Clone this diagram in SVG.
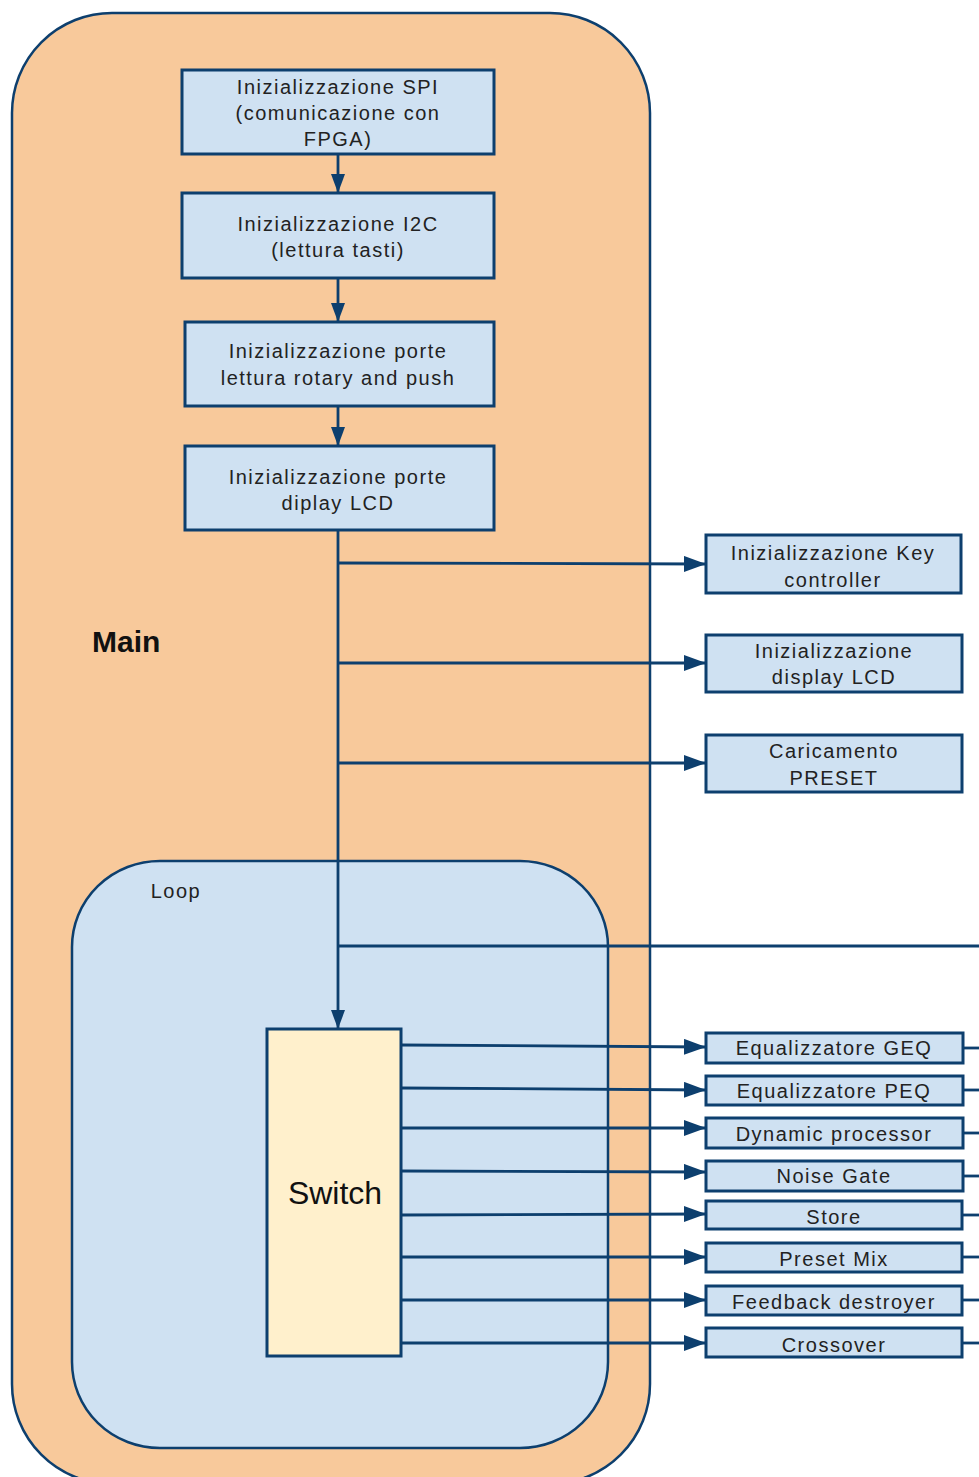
<svg xmlns="http://www.w3.org/2000/svg" width="979" height="1477" viewBox="0 0 979 1477">
  <defs>
    <marker id="arrow" markerUnits="userSpaceOnUse" markerWidth="24" markerHeight="18" refX="22" refY="8" orient="auto">
      <path d="M0,0 L22,8 L0,16 Z" fill="#0d3f6e"/>
    </marker>
    <marker id="arrowSmall" markerUnits="userSpaceOnUse" markerWidth="20" markerHeight="16" refX="19" refY="7" orient="auto">
      <path d="M0,0 L19,7 L0,14 Z" fill="#0d3f6e"/>
    </marker>
  </defs>
  <style>
    .main { fill: #f8c99b; stroke: #0d3f6e; stroke-width: 2.5; }
    .loop { fill: #cfe1f2; stroke: #0d3f6e; stroke-width: 2.5; }
    .box { fill: #cfe1f2; stroke: #0d3f6e; stroke-width: 3; }
    .switch { fill: #fff0cc; stroke: #0d3f6e; stroke-width: 3; }
    .edge { fill: none; stroke: #0d3f6e; stroke-width: 2.8; }
    .lbl { font-family: "Liberation Sans", Arial, sans-serif; font-size: 20px; letter-spacing: 1.5px; fill: #222222; text-anchor: middle; }
    .title { font-family: "Liberation Sans", Arial, sans-serif; font-size: 30px; font-weight: bold; fill: #111111; }
    .big { font-family: "Liberation Sans", Arial, sans-serif; font-size: 32px; fill: #111111; text-anchor: middle; }
  </style>

  <rect width="979" height="1477" fill="#ffffff"/>

  <!-- containers -->
  <g id="main">
    <rect class="main" x="12" y="13" width="638" height="1471" rx="100" ry="100"/>
    <text class="title" x="92" y="652">Main</text>
  </g>
  <g id="loop">
    <rect class="loop" x="72" y="861" width="536" height="587" rx="88" ry="86"/>
    <text class="lbl" x="176" y="898">Loop</text>
  </g>

  <!-- connectors -->
  <g id="connectors">
    <line class="edge" x1="338" y1="154" x2="338" y2="193" marker-end="url(#arrowSmall)"/>
    <line class="edge" x1="338" y1="278" x2="338" y2="322" marker-end="url(#arrowSmall)"/>
    <line class="edge" x1="338" y1="406" x2="338" y2="446" marker-end="url(#arrowSmall)"/>
    <line class="edge" x1="338" y1="530" x2="338" y2="1029" marker-end="url(#arrowSmall)"/>
    <line class="edge" x1="338" y1="563" x2="706" y2="564" marker-end="url(#arrow)"/>
    <line class="edge" x1="338" y1="663" x2="706" y2="663" marker-end="url(#arrow)"/>
    <line class="edge" x1="338" y1="763" x2="706" y2="763" marker-end="url(#arrow)"/>
    <line class="edge" x1="338" y1="946" x2="979" y2="946"/>

    <line class="edge" x1="401" y1="1045" x2="706" y2="1047" marker-end="url(#arrow)"/>
    <line class="edge" x1="401" y1="1088" x2="706" y2="1090" marker-end="url(#arrow)"/>
    <line class="edge" x1="401" y1="1128" x2="706" y2="1128" marker-end="url(#arrow)"/>
    <line class="edge" x1="401" y1="1171" x2="706" y2="1172" marker-end="url(#arrow)"/>
    <line class="edge" x1="401" y1="1215" x2="706" y2="1214" marker-end="url(#arrow)"/>
    <line class="edge" x1="401" y1="1257" x2="706" y2="1257" marker-end="url(#arrow)"/>
    <line class="edge" x1="401" y1="1300" x2="706" y2="1300" marker-end="url(#arrow)"/>
    <line class="edge" x1="401" y1="1343" x2="706" y2="1343" marker-end="url(#arrow)"/>

    <line class="edge" x1="963" y1="1048" x2="979" y2="1048"/>
    <line class="edge" x1="963" y1="1090" x2="979" y2="1090"/>
    <line class="edge" x1="963" y1="1133" x2="979" y2="1133"/>
    <line class="edge" x1="963" y1="1176" x2="979" y2="1176"/>
    <line class="edge" x1="962" y1="1215" x2="979" y2="1215"/>
    <line class="edge" x1="962" y1="1257" x2="979" y2="1257"/>
    <line class="edge" x1="962" y1="1300" x2="979" y2="1300"/>
    <line class="edge" x1="962" y1="1343" x2="979" y2="1343"/>
  </g>

  <!-- initialisation chain -->
  <g id="init-spi">
    <rect class="box" x="182" y="70" width="312" height="84"/>
    <text class="lbl" x="338" y="94">Inizializzazione SPI</text>
    <text class="lbl" x="338" y="120">(comunicazione con</text>
    <text class="lbl" x="338" y="146">FPGA)</text>
  </g>
  <g id="init-i2c">
    <rect class="box" x="182" y="193" width="312" height="85"/>
    <text class="lbl" x="338" y="231">Inizializzazione I2C</text>
    <text class="lbl" x="338" y="257">(lettura tasti)</text>
  </g>
  <g id="init-rotary">
    <rect class="box" x="185" y="322" width="309" height="84"/>
    <text class="lbl" x="338" y="358">Inizializzazione porte</text>
    <text class="lbl" x="338" y="385">lettura rotary and push</text>
  </g>
  <g id="init-lcd-ports">
    <rect class="box" x="185" y="446" width="309" height="84"/>
    <text class="lbl" x="338" y="484">Inizializzazione porte</text>
    <text class="lbl" x="338" y="510">diplay LCD</text>
  </g>

  <!-- side initialisation steps -->
  <g id="init-key">
    <rect class="box" x="706" y="535" width="255" height="58"/>
    <text class="lbl" x="833" y="560">Inizializzazione Key</text>
    <text class="lbl" x="833" y="587">controller</text>
  </g>
  <g id="init-display">
    <rect class="box" x="706" y="635" width="256" height="57"/>
    <text class="lbl" x="834" y="658">Inizializzazione</text>
    <text class="lbl" x="834" y="684">display LCD</text>
  </g>
  <g id="load-preset">
    <rect class="box" x="706" y="735" width="256" height="57"/>
    <text class="lbl" x="834" y="758">Caricamento</text>
    <text class="lbl" x="834" y="785">PRESET</text>
  </g>

  <!-- loop dispatcher -->
  <g id="switch">
    <rect class="switch" x="267" y="1029" width="134" height="327"/>
    <text class="big" x="335" y="1204">Switch</text>
  </g>

  <!-- switch targets -->
  <g id="geq">
    <rect class="box" x="706" y="1033" width="257" height="30"/>
    <text class="lbl" x="834" y="1055">Equalizzatore GEQ</text>
  </g>
  <g id="peq">
    <rect class="box" x="706" y="1076" width="257" height="29"/>
    <text class="lbl" x="834" y="1098">Equalizzatore PEQ</text>
  </g>
  <g id="dynamic">
    <rect class="box" x="706" y="1118" width="257" height="30"/>
    <text class="lbl" x="834" y="1141">Dynamic processor</text>
  </g>
  <g id="noise-gate">
    <rect class="box" x="706" y="1161" width="257" height="30"/>
    <text class="lbl" x="834" y="1183">Noise Gate</text>
  </g>
  <g id="store">
    <rect class="box" x="706" y="1201" width="256" height="28"/>
    <text class="lbl" x="834" y="1224">Store</text>
  </g>
  <g id="preset-mix">
    <rect class="box" x="706" y="1243" width="256" height="29"/>
    <text class="lbl" x="834" y="1266">Preset Mix</text>
  </g>
  <g id="feedback">
    <rect class="box" x="706" y="1286" width="256" height="29"/>
    <text class="lbl" x="834" y="1309">Feedback destroyer</text>
  </g>
  <g id="crossover">
    <rect class="box" x="706" y="1328" width="256" height="29"/>
    <text class="lbl" x="834" y="1352">Crossover</text>
  </g>
</svg>
